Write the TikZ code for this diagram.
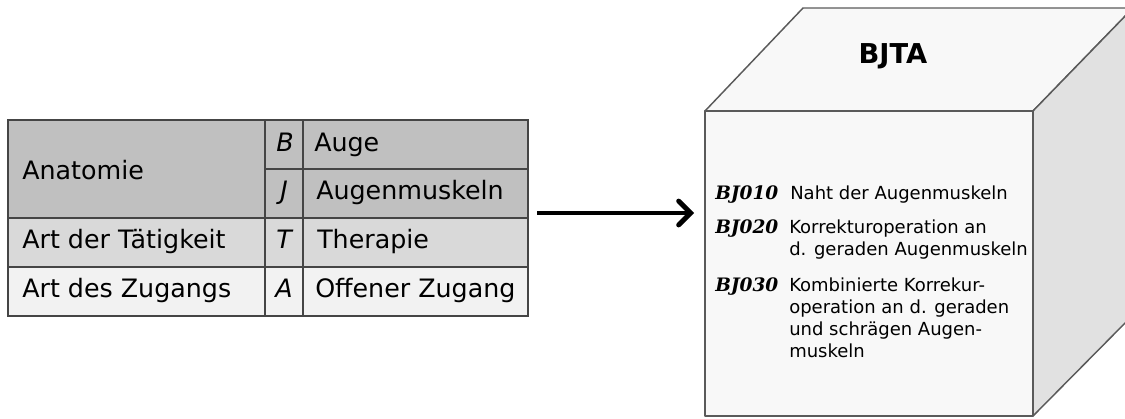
\documentclass[tikz,border=0pt]{standalone}
\usepackage{fontspec}
\setmainfont{DejaVu Sans}
\newfontfamily\codefont{DejaVu Serif}
\usetikzlibrary{arrows.meta}
\definecolor{rowA}{HTML}{C0C0C0}
\definecolor{rowB}{HTML}{D9D9D9}
\definecolor{rowC}{HTML}{F2F2F2}
\definecolor{tline}{HTML}{454545}
\definecolor{cubeface}{HTML}{F8F8F8}
\definecolor{cubeside}{HTML}{E1E1E1}
\definecolor{cubeline}{HTML}{5A5A5A}
\begin{document}
\begin{tikzpicture}[x=0.75pt,y=-0.75pt,
  tab/.style={draw=tline,line width=1.1pt},
  cell/.style={anchor=base west,inner sep=0pt,font=\fontsize{19}{22}\selectfont},
  letter/.style={anchor=base,inner sep=0pt,font=\fontsize{19}{22}\selectfont\itshape},
  cubeedge/.style={draw=cubeline,line width=1.1pt,line join=round},
  code/.style={anchor=base west,inner sep=0pt,font=\codefont\bfseries\itshape\fontsize{13.9}{16}\selectfont},
  desc/.style={anchor=base west,inner sep=0pt,font=\fontsize{13.5}{16.5}\selectfont},
  title/.style={anchor=base,inner sep=0pt,font=\bfseries\fontsize{20.5}{24}\selectfont},
  bigarrow/.style={line width=3.6pt,-{Straight Barb[length=9pt,width=18pt,line cap=round]}}
]
\useasboundingbox (0,0) rectangle (1125,418);
\clip (0,0) rectangle (1125,418);
% ---- table ----
\fill[rowA] (8,120) rectangle (528,218);
\fill[rowB] (8,218) rectangle (528,267);
\fill[rowC] (8,267) rectangle (528,316);
\draw[tab] (265,120) -- (265,316) (303,120) -- (303,316);
\draw[tab] (265,169) -- (528,169) (8,218) -- (528,218) (8,267) -- (528,267);
\draw[tab] (8,120) rectangle (528,316);
\node[cell] (anat) at (22,179) {Anatomie};
\node[cell] (art1) at (22,248) {Art der Tätigkeit};
\node[cell] (art2) at (22,297) {Art des Zugangs};
\node[letter] (lB) at (285,151) {B};
\node[letter] (lJ) at (284,199) {J};
\node[letter] (lT) at (284,248) {T};
\node[letter] (lA) at (284,297) {A};
\node[cell] (vB) at (314,151) {Auge};
\node[cell] (vJ) at (316,199) {Augenmuskeln};
\node[cell] (vT) at (317,248) {Therapie};
\node[cell] (vA) at (315,297) {Offener Zugang};
% ---- cube ----
\path[fill=cubeface,cubeedge] (705,111) -- (803,8) -- (1133,8) -- (1033,111) -- cycle;
\path[fill=cubeside,cubeedge] (1033,111) -- (1133,8) -- (1133,315) -- (1033,416) -- cycle;
\path[fill=cubeface,cubeedge] (705,111) rectangle (1033,416);
\node[title] (bjta) at (893,63) {BJTA};
\node[code] (c1) at (715,199) {BJ010};
\node[code] (c2) at (715,233) {BJ020};
\node[code] (c3) at (715,291) {BJ030};
\node[desc] (d1) at (790,199) {Naht der Augenmuskeln};
\node[desc] (d2a) at (789,233) {Korrekturoperation an};
\node[desc] (d2b) at (789,255) {d. geraden Augenmuskeln};
\node[desc] (d3a) at (789,291) {Kombinierte Korrekur-};
\node[desc] (d3b) at (789,313) {operation an d. geraden};
\node[desc] (d3c) at (789,335) {und schrägen Augen-};
\node[desc] (d3d) at (789,357) {muskeln};
% ---- arrow ----
\coordinate (arrS) at (537,213);
\coordinate (arrE) at (694,213);
\draw[bigarrow] (arrS) -- (arrE);
\end{tikzpicture}
\end{document}
